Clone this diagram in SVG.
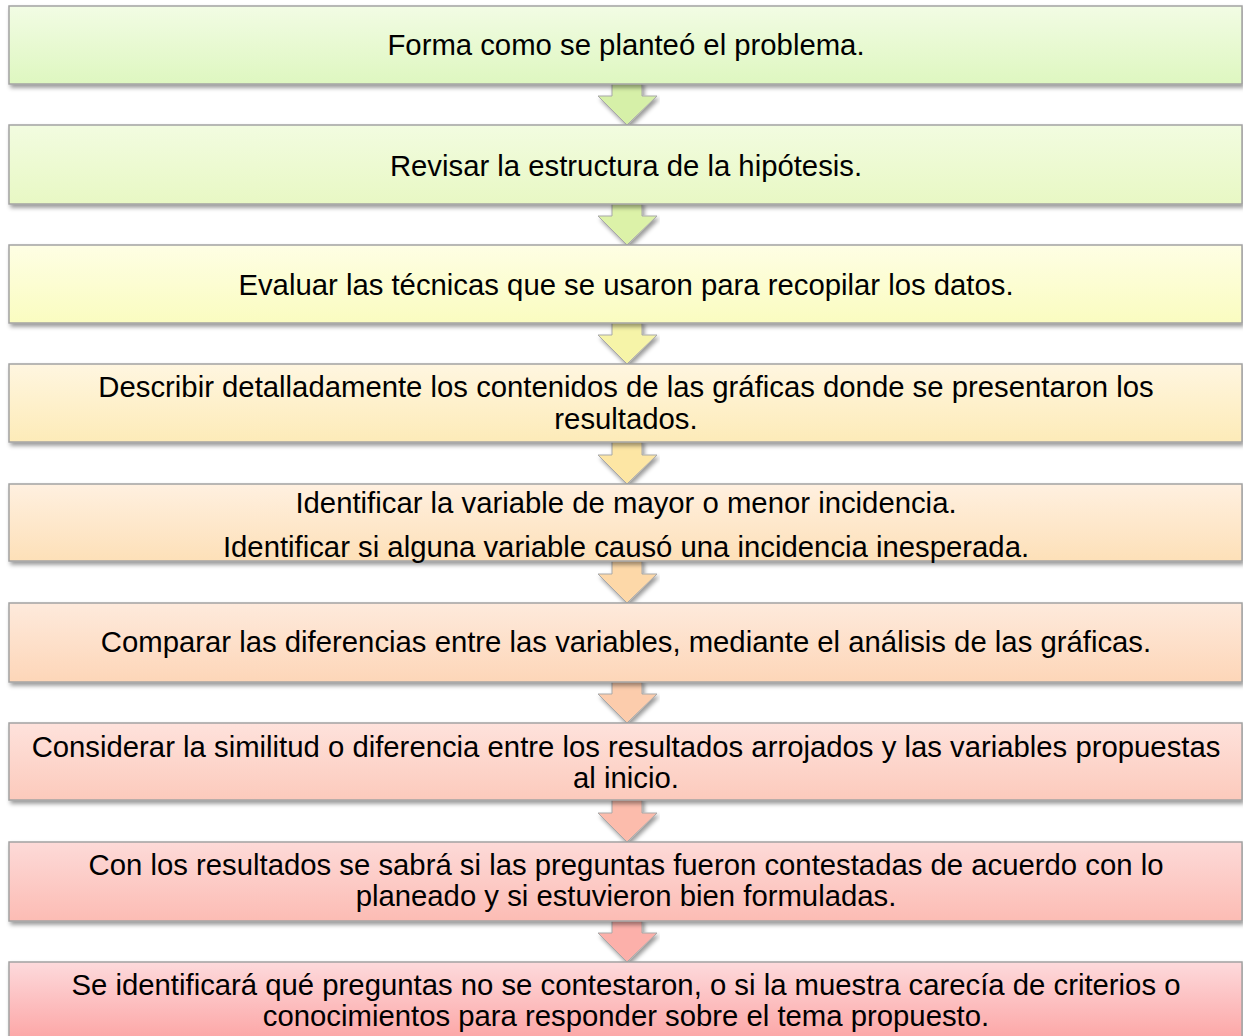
<svg xmlns="http://www.w3.org/2000/svg" width="1243" height="1036" viewBox="0 0 1243 1036">
<style>
.box{stroke:#a3a3a3;stroke-width:1.5;filter:url(#sh)}
.arr{stroke:#a8a8a8;stroke-width:1;filter:url(#sh)}
text{font-family:"Liberation Sans",Arial,sans-serif;font-size:29.3px;fill:#000;text-anchor:middle}
</style>
<defs>
<filter id="sh" x="-5%" y="-20%" width="110%" height="150%">
<feDropShadow dx="2" dy="3" stdDeviation="2" flood-color="#000" flood-opacity="0.4"/>
</filter>
<linearGradient id="g1" x1="0" y1="0" x2="0" y2="1"><stop offset="0" stop-color="#f2fce4"/><stop offset="1" stop-color="#def7c0"/></linearGradient>
<linearGradient id="g2" x1="0" y1="0" x2="0" y2="1"><stop offset="0" stop-color="#f2fce0"/><stop offset="1" stop-color="#e8f8c4"/></linearGradient>
<linearGradient id="g3" x1="0" y1="0" x2="0" y2="1"><stop offset="0" stop-color="#fefee4"/><stop offset="1" stop-color="#fafcc0"/></linearGradient>
<linearGradient id="g4" x1="0" y1="0" x2="0" y2="1"><stop offset="0" stop-color="#fff6e0"/><stop offset="1" stop-color="#fdebb8"/></linearGradient>
<linearGradient id="g5" x1="0" y1="0" x2="0" y2="1"><stop offset="0" stop-color="#fff0e0"/><stop offset="1" stop-color="#fde0b8"/></linearGradient>
<linearGradient id="g6" x1="0" y1="0" x2="0" y2="1"><stop offset="0" stop-color="#feeadc"/><stop offset="1" stop-color="#fdd6b8"/></linearGradient>
<linearGradient id="g7" x1="0" y1="0" x2="0" y2="1"><stop offset="0" stop-color="#fee2dc"/><stop offset="1" stop-color="#fccabc"/></linearGradient>
<linearGradient id="g8" x1="0" y1="0" x2="0" y2="1"><stop offset="0" stop-color="#fddad8"/><stop offset="1" stop-color="#fcbcb4"/></linearGradient>
<linearGradient id="g9" x1="0" y1="0" x2="0" y2="1"><stop offset="0" stop-color="#fddadc"/><stop offset="1" stop-color="#fca4a4"/></linearGradient>
</defs>
<rect width="1243" height="1036" fill="#fff"/>
<g id="connectors">
<path class="arr" fill="#d6f0a8" d="M612,82 L642,82 L642,96 L657,96 L627,125 L598,96 L612,96 Z"/>
<path class="arr" fill="#dcf2a8" d="M612,202 L642,202 L642,216 L657,216 L627,245 L598,216 L612,216 Z"/>
<path class="arr" fill="#f6f4a8" d="M612,321 L642,321 L642,335 L657,335 L627,364 L598,335 L612,335 Z"/>
<path class="arr" fill="#fde6a4" d="M612,440 L642,440 L642,455 L657,455 L627,484 L598,455 L612,455 Z"/>
<path class="arr" fill="#fdd8a8" d="M612,559 L642,559 L642,574 L657,574 L627,603 L598,574 L612,574 Z"/>
<path class="arr" fill="#fcccac" d="M612,680 L642,680 L642,694 L657,694 L627,723 L598,694 L612,694 Z"/>
<path class="arr" fill="#fcbcac" d="M612,798 L642,798 L642,813 L657,813 L627,842 L598,813 L612,813 Z"/>
<path class="arr" fill="#fcb0aa" d="M612,919 L642,919 L642,933 L657,933 L627,962 L598,933 L612,933 Z"/>
</g>
<g id="n1"><rect class="box" x="9" y="6" width="1233" height="78" fill="url(#g1)"/><text x="626" y="55">Forma como se planteó el problema.</text></g>
<g id="n2"><rect class="box" x="9" y="125" width="1233" height="79" fill="url(#g2)"/><text x="626" y="176">Revisar la estructura de la hipótesis.</text></g>
<g id="n3"><rect class="box" x="9" y="245" width="1233" height="78" fill="url(#g3)"/><text x="626" y="295">Evaluar las técnicas que se usaron para recopilar los datos.</text></g>
<g id="n4"><rect class="box" x="9" y="364" width="1233" height="78" fill="url(#g4)"/><text x="626" y="397">Describir detalladamente los contenidos de las gráficas donde se presentaron los</text><text x="626" y="429">resultados.</text></g>
<g id="n5"><rect class="box" x="9" y="484" width="1233" height="77" fill="url(#g5)"/><text x="626" y="513">Identificar la variable de mayor o menor incidencia.</text><text x="626" y="557">Identificar si alguna variable causó una incidencia inesperada.</text></g>
<g id="n6"><rect class="box" x="9" y="603" width="1233" height="79" fill="url(#g6)"/><text x="626" y="652">Comparar las diferencias entre las variables, mediante el análisis de las gráficas.</text></g>
<g id="n7"><rect class="box" x="9" y="723" width="1233" height="77" fill="url(#g7)"/><text x="626" y="757">Considerar la similitud o diferencia entre los resultados arrojados y las variables propuestas</text><text x="626" y="788">al inicio.</text></g>
<g id="n8"><rect class="box" x="9" y="842" width="1233" height="79" fill="url(#g8)"/><text x="626" y="875">Con los resultados se sabrá si las preguntas fueron contestadas de acuerdo con lo</text><text x="626" y="906">planeado y si estuvieron bien formuladas.</text></g>
<g id="n9"><rect class="box" x="9" y="962" width="1233" height="80" fill="url(#g9)"/><text x="626" y="995">Se identificará qué preguntas no se contestaron, o si la muestra carecía de criterios o</text><text x="626" y="1026">conocimientos para responder sobre el tema propuesto.</text></g>
</svg>
